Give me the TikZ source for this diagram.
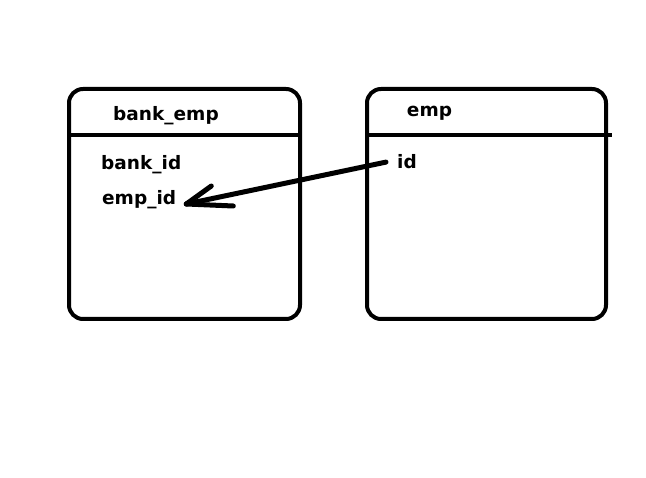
\documentclass[tikz,border=0pt]{standalone}
\usepackage{fontspec}
\setmainfont{DejaVu Sans}
\usetikzlibrary{positioning}
\tikzstyle{table} = [rectangle, rounded corners=14pt, minimum width=231pt, minimum height=230pt, draw=black, line width=4pt]
\tikzstyle{title} = [anchor=base, inner sep=0pt, font=\fontsize{18.5}{22}\selectfont\bfseries]
\tikzstyle{field} = [anchor=base west, inner sep=0pt, font=\fontsize{18.5}{22}\selectfont\bfseries]
\tikzstyle{rule} = [line width=4pt]
\tikzstyle{arrow} = [line width=5pt, line cap=round]

\begin{document}
\begin{tikzpicture}[x=1pt, y=-1pt]
\useasboundingbox (0,0) rectangle (646,478);
\node (bankemp) [table] at (184.5,204) {};
\node (emp) [table, minimum width=239pt] at (486.5,204) {};
\coordinate (hdr) at (0,135);
\draw [rule] (bankemp.west |- hdr) -- (bankemp.east |- hdr);
\draw [rule] (emp.west |- hdr) -- ([xshift=4pt]emp.east |- hdr);
\node (bankemptitle) [title] at (166,121) {bank\_emp};
\node (emptitle) [title] at (429.5,117) {emp};
\node (bankid) [field] at (101,170) {bank\_id};
\node (empid) [field] at (102,205) {emp\_id};
\node (id) [field] at (397,169) {id};
\coordinate (tip) at ([xshift=10pt, yshift=1pt]empid.base east);
\draw [arrow] ([xshift=-11pt]id.west) -- (tip);
\draw [arrow] (tip) -- ++(25,-18);
\draw [arrow] (tip) -- ++(47,2);
\end{tikzpicture}
\end{document}
